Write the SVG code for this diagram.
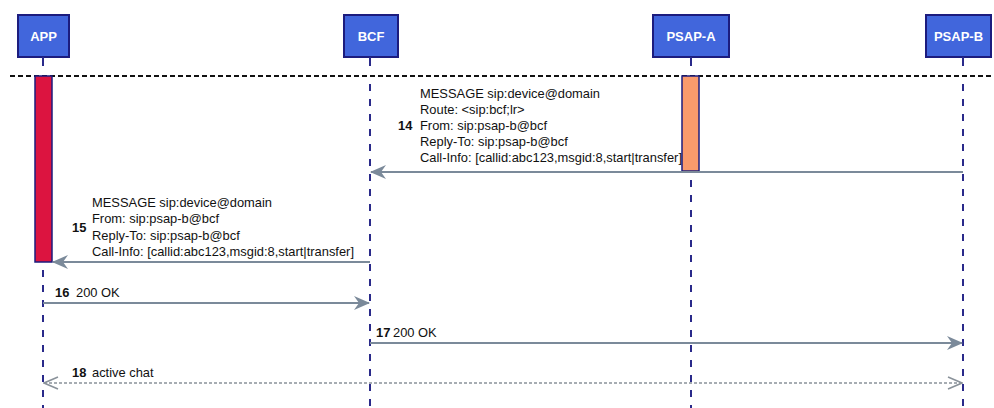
<svg xmlns="http://www.w3.org/2000/svg" width="994" height="408" viewBox="0 0 994 408">
<defs>
<style>
.box{fill:#4166dc;stroke:#1c1c7e;stroke-width:2}
.hd{font-family:"Liberation Sans",Arial,sans-serif;font-size:13px;font-weight:bold;fill:#fff;text-anchor:middle}
.life{stroke:#2a2a8a;stroke-width:2;stroke-dasharray:7 8;fill:none}
.stub{stroke:#2a2a8a;stroke-width:2}
.t{font-family:"Liberation Sans",Arial,sans-serif;font-size:12.9px;fill:#111}
.n{font-family:"Liberation Sans",Arial,sans-serif;font-size:12.9px;font-weight:bold;fill:#111}
.msg{stroke:#7b8a9a;stroke-width:2;fill:none}
.dot{stroke:#8a929a;stroke-width:1.5;stroke-dasharray:3 2;fill:none}
</style>
<marker id="ah" viewBox="0 0 16 14" refX="15" refY="7" markerWidth="16" markerHeight="14" markerUnits="userSpaceOnUse" orient="auto-start-reverse">
<path d="M0,0 L16,7 L0,14 L5,7 Z" fill="#7b8a9a"/>
</marker>
<marker id="oh" viewBox="0 0 16 14" refX="15" refY="7" markerWidth="16" markerHeight="14" markerUnits="userSpaceOnUse" orient="auto-start-reverse">
<path d="M1,1 L15,7 L1,13" fill="none" stroke="#8a929a" stroke-width="1.5"/>
</marker>
</defs>
<rect width="994" height="408" fill="#fff"/>

<line x1="10" y1="76" x2="994" y2="76" stroke="#111" stroke-width="2" stroke-dasharray="5 3"/>

<g id="APP">
<rect class="box" x="18" y="15" width="51" height="42"/>
<text class="hd" x="43.5" y="41">APP</text>
<line class="stub" x1="43" y1="57" x2="43" y2="66"/>
<line class="life" x1="43" y1="270" x2="43" y2="408"/>
<rect x="35" y="76" width="17" height="186" fill="#dc1440" stroke="#1c1c7e" stroke-width="1.5"/>
</g>
<g id="BCF">
<rect class="box" x="344" y="15" width="54" height="42"/>
<text class="hd" x="371" y="41">BCF</text>
<line class="stub" x1="370" y1="57" x2="370" y2="66"/>
<line class="life" x1="370" y1="84" x2="370" y2="408"/>
</g>
<g id="PSAP-A">
<rect class="box" x="653" y="15" width="76" height="42"/>
<text class="hd" x="691" y="41">PSAP-A</text>
<line class="stub" x1="691" y1="57" x2="691" y2="66"/>
<line class="life" x1="691" y1="180" x2="691" y2="408"/>
<rect x="682" y="76" width="17" height="95" fill="#f99a6c" stroke="#1c1c7e" stroke-width="1.5"/>
</g>
<g id="PSAP-B">
<rect class="box" x="926" y="15" width="65" height="42"/>
<text class="hd" x="958.5" y="41">PSAP-B</text>
<line class="stub" x1="963" y1="57" x2="963" y2="66"/>
<line class="life" x1="963" y1="84" x2="963" y2="408"/>
</g>

<g id="connectors">
<line class="msg" x1="963" y1="172" x2="371" y2="172" marker-end="url(#ah)"/>
<line class="msg" x1="370" y1="262" x2="53" y2="262" marker-end="url(#ah)"/>
<line class="msg" x1="43" y1="303" x2="369" y2="303" marker-end="url(#ah)"/>
<line class="msg" x1="370" y1="343" x2="962" y2="343" marker-end="url(#ah)"/>
<line class="dot" x1="44" y1="383" x2="962" y2="383" marker-start="url(#oh)" marker-end="url(#oh)"/>
</g>

<g id="labels">
<text class="t" x="420" y="98">MESSAGE sip:device@domain</text>
<text class="t" x="420" y="114">Route: &lt;sip:bcf;lr&gt;</text>
<text class="n" x="398" y="130">14</text>
<text class="t" x="420" y="130">From: sip:psap-b@bcf</text>
<text class="t" x="420" y="146">Reply-To: sip:psap-b@bcf</text>
<text class="t" x="420" y="162">Call-Info: [callid:abc123,msgid:8,start|transfer]</text>

<text class="t" x="92" y="207">MESSAGE sip:device@domain</text>
<text class="t" x="92" y="223">From: sip:psap-b@bcf</text>
<text class="n" x="72" y="232">15</text>
<text class="t" x="92" y="240">Reply-To: sip:psap-b@bcf</text>
<text class="t" x="92" y="256">Call-Info: [callid:abc123,msgid:8,start|transfer]</text>

<text class="n" x="55" y="297">16</text>
<text class="t" x="76" y="297">200 OK</text>
<text class="n" x="376" y="337">17</text>
<text class="t" x="393" y="337">200 OK</text>
<text class="n" x="72" y="377">18</text>
<text class="t" x="92" y="377">active chat</text>
</g>
</svg>
